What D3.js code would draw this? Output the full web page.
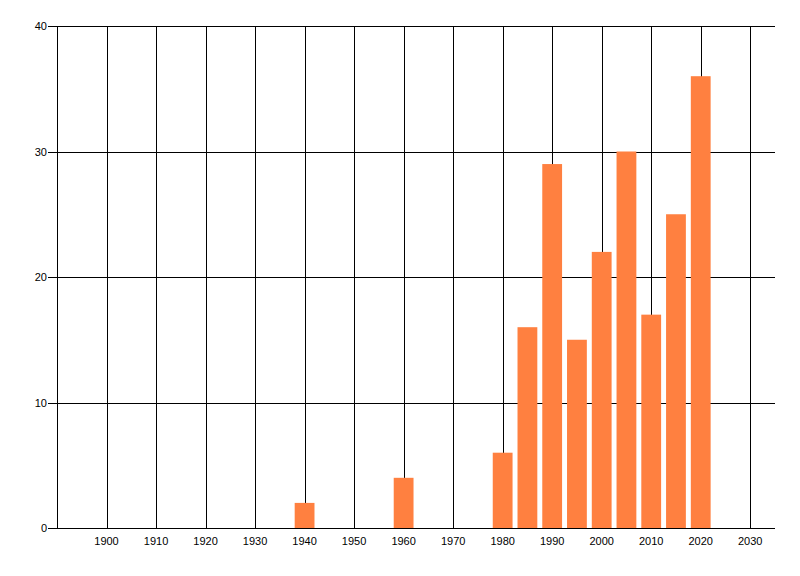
<!DOCTYPE html>
<html lang="en">
<head>
    <meta charset="UTF-8">
    <title>Bar chart</title>
    <script src="https://d3js.org/d3.v7.min.js"></script>
    <style>
        body {
            margin: 0;
            background: #fff;
        }

        .grid line {
            stroke: #000;
            stroke-width: 1px;
            shape-rendering: crispEdges;
        }

        .tick text {
            font-family: 'Liberation Sans', Arial, sans-serif;
            font-size: 11px;
            fill: #000;
        }
    </style>
</head>
<body>
    <div id="chart"></div>

    <script>
        // values
        const years = [1940, 1960, 1980, 1985, 1990, 1995, 2000, 2005, 2010, 2015, 2020];
        const counts = [2, 4, 6, 16, 29, 15, 22, 30, 17, 25, 36];
        const xTicks = [1900, 1910, 1920, 1930, 1940, 1950, 1960, 1970, 1980, 1990, 2000, 2010, 2020, 2030];
        const yTicks = [0, 10, 20, 30, 40];

        const width = 800, height = 576;
        const margin = {top: 26, right: 25, bottom: 48, left: 57};

        const svg = d3.select("#chart").append("svg")
            .attr("width", width)
            .attr("height", height);

        const x = d3.scaleLinear()
            .domain([1890, 2035])
            .range([margin.left, width - margin.right]);

        const y = d3.scaleLinear()
            .domain([0, 40])
            .range([height - margin.bottom, margin.top]);

        // vertical grid lines, from the axis up to the top
        svg.append("g")
            .attr("class", "grid")
            .selectAll("line")
            .data(xTicks)
            .enter().append("line")
            .attr("x1", d => Math.round(x(d)) + 0.5)
            .attr("x2", d => Math.round(x(d)) + 0.5)
            .attr("y1", y(0))
            .attr("y2", y(40));

        // horizontal grid lines, with a short tick left of the axis
        svg.append("g")
            .attr("class", "grid")
            .selectAll("line")
            .data(yTicks)
            .enter().append("line")
            .attr("x1", margin.left - 9)
            .attr("x2", width - margin.right)
            .attr("y1", d => Math.round(y(d)) + 0.5)
            .attr("y2", d => Math.round(y(d)) + 0.5);

        // left axis line
        svg.append("g")
            .attr("class", "grid")
            .append("line")
            .attr("x1", margin.left + 0.5)
            .attr("x2", margin.left + 0.5)
            .attr("y1", y(0))
            .attr("y2", y(40));

        // bars, about 4 years wide, drawn over the grid
        const barW = x(1894) - x(1890);
        svg.append("g")
            .selectAll("rect")
            .data(years)
            .enter().append("rect")
            .attr("x", d => x(d) - barW / 2)
            .attr("y", (d, i) => y(counts[i]))
            .attr("width", barW)
            .attr("height", (d, i) => y(0) - y(counts[i]))
            .attr("fill", "#ff8040");

        // tick labels
        svg.append("g")
            .selectAll("text")
            .data(xTicks)
            .enter().append("text")
            .attr("class", "tick")
            .attr("x", d => x(d))
            .attr("y", y(0) + 17)
            .attr("text-anchor", "middle")
            .style("font-family", "'Liberation Sans', Arial, sans-serif")
            .style("font-size", "11px")
            .text(d => d);

        svg.append("g")
            .selectAll("text")
            .data(yTicks)
            .enter().append("text")
            .attr("x", margin.left - 10)
            .attr("y", d => y(d) + 4)
            .attr("text-anchor", "end")
            .style("font-family", "'Liberation Sans', Arial, sans-serif")
            .style("font-size", "11px")
            .text(d => d);
    </script>
</body>
</html>
